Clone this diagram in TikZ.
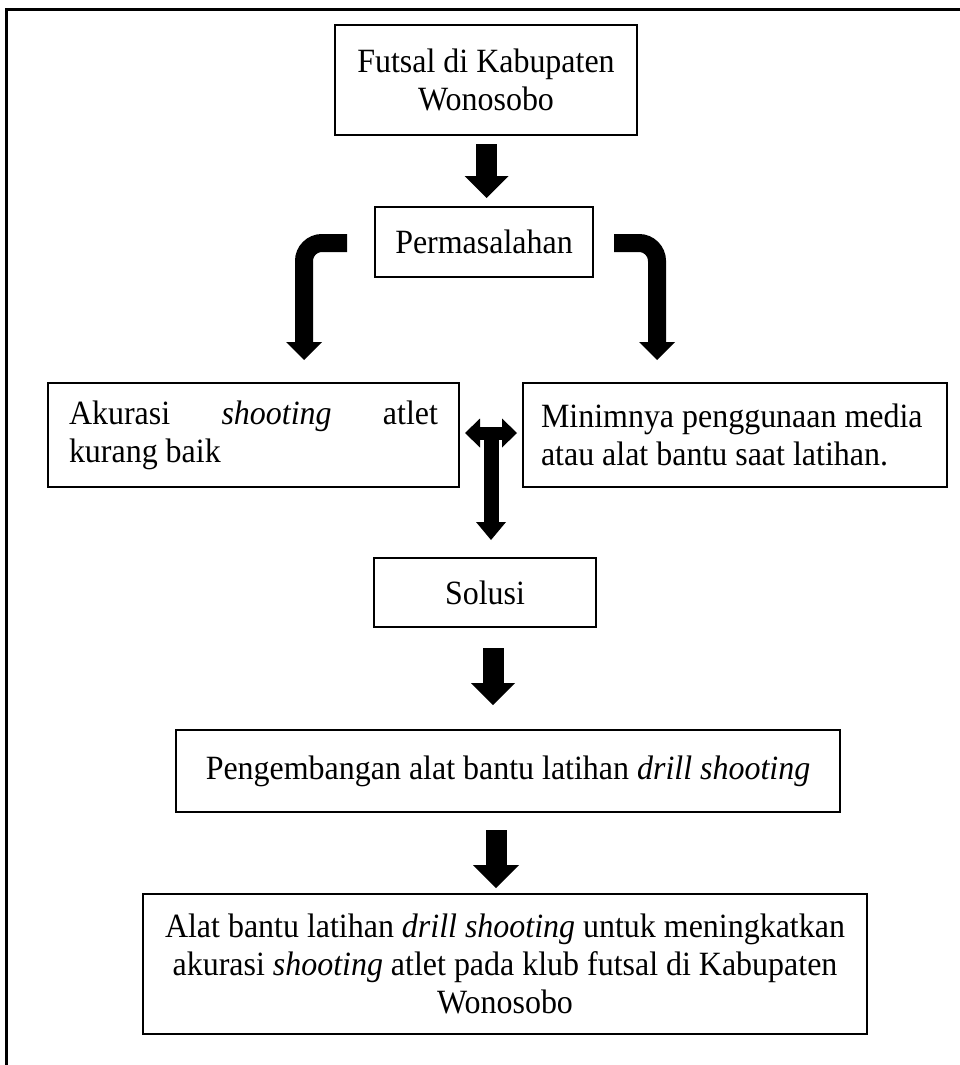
\documentclass[tikz,border=0pt]{standalone}
\usepackage{fontspec}
\setmainfont{Liberation Serif}[FakeStretch=0.94]
\usetikzlibrary{calc}
\hyphenpenalty=10000
\exhyphenpenalty=10000
\newcommand\blkdown[5]{% start, tip, shaft, head width, head length
  \draw[line width=#3pt] (#1) -- ($(#2)+(0,-#5+1)$);
  \fill ($(#2)+(-#4/2,-#5)$) -- (#2) -- ($(#2)+(#4/2,-#5)$) -- cycle;
}
\begin{document}
\begin{tikzpicture}[x=1pt,y=-1pt,
  box/.style={draw, line width=1.5pt, inner sep=0pt,
    font=\fontsize{34}{38}\selectfont},
]
\useasboundingbox (0,0) rectangle (960,1065);
\fill[white] (0,0) rectangle (960,1065);
% outer frame
\draw[line width=3pt] (6,1080) -- (6,10) -- (975,10);

% nodes
\node[box, minimum width=302pt, minimum height=110pt, align=center] (n1) at (486,80)
  {Futsal di Kabupaten\\Wonosobo};
\node[box, minimum width=218pt, minimum height=70pt] (n2) at (484,242) {Permasalahan};
\node[box, minimum width=411pt, minimum height=104pt, text width=369pt, align=justify] (n3) at (253.5,435)
  {Akurasi \textit{shooting} atlet\linebreak kurang baik};
\node[box, minimum width=424pt, minimum height=104pt, text width=388pt, align=flush left] (n4) at (735,435)
  {Minimnya penggunaan media\\atau alat bantu saat latihan.};
\node[box, minimum width=222pt, minimum height=69pt] (n5) at (485,592.5) {Solusi};
\node[box, minimum width=664pt, minimum height=82pt] (n6) at (508,771)
  {Pengembangan alat bantu latihan \textit{drill shooting}};
\node[box, minimum width=724pt, minimum height=140pt, align=center] (n7) at (505,964)
  {Alat bantu latihan \textit{drill shooting} untuk meningkatkan\\
   akurasi \textit{shooting} atlet pada klub futsal di Kabupaten\\
   Wonosobo};

% arrow 1
\coordinate (a1s) at (486.5,144);
\coordinate (a1t) at (486.5,198);
\blkdown{a1s}{a1t}{21}{44}{22}

% bent arrows
\coordinate (bls) at (347,243);
\coordinate (blt) at (304,360);
\draw[line width=18pt, rounded corners=18pt] (bls) -| ($(blt)+(0,-17)$);
\fill ($(blt)+(-18,-18)$) -- (blt) -- ($(blt)+(18,-18)$) -- cycle;

\coordinate (brs) at (614,243);
\coordinate (brt) at (657,360);
\draw[line width=18pt, rounded corners=18pt] (brs) -| ($(brt)+(0,-17)$);
\fill ($(brt)+(-18,-18)$) -- (brt) -- ($(brt)+(18,-18)$) -- cycle;

% double arrow
\coordinate (hl) at (465,433);
\coordinate (hr) at (517,433);
\coordinate (vc) at (491,433);
\coordinate (vt) at (491,540);
\draw[line width=13pt] ($(hl)+(14,0)$) -- ($(hr)+(-14,0)$);
\fill (hl) -- ($(hl)+(15,-14.5)$) -- ($(hl)+(15,14.5)$) -- cycle;
\fill (hr) -- ($(hr)+(-15,-14.5)$) -- ($(hr)+(-15,14.5)$) -- cycle;
\blkdown{vc}{vt}{15}{30}{18}

% arrow 3
\coordinate (a3s) at (493,648);
\coordinate (a3t) at (493,705);
\blkdown{a3s}{a3t}{21}{44}{22}

% arrow 4
\coordinate (a4s) at (496,830);
\coordinate (a4t) at (496,888);
\blkdown{a4s}{a4t}{21}{46}{23}
\end{tikzpicture}
\end{document}
